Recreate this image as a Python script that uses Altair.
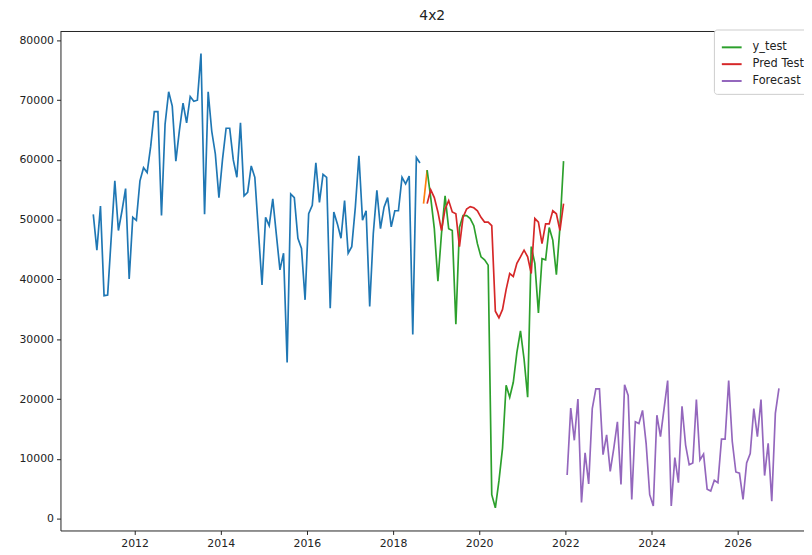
import altair as alt
import pandas as pd

# month index 0 = Jan 2011
train_start = 0
train = [50900, 44900, 52300, 37300, 37400, 47000, 56500, 48200, 51500, 55200,
         40100, 50400, 49900, 56500, 58700, 57900, 62300, 68100, 68100, 50700,
         66000, 71400, 69000, 59800, 65000, 69500, 66200, 70600, 69800, 70000,
         77800, 50900, 71400, 64800, 61000, 53700, 60100, 65300, 65300, 60000,
         57100, 66200, 54000, 54600, 59000, 57100, 48100, 39100, 50400, 49000,
         53500, 47500, 41600, 44400, 26100, 54300, 53700, 46900, 45200, 36600,
         51000, 52400, 59500, 52900, 57600, 57100, 35200, 51300, 49300, 46900,
         53200, 44400, 45500, 52100, 60700, 49900, 51500, 35500, 47700, 54900,
         48500, 52100, 53700, 48800, 51500, 51500, 57100, 56000, 57300, 30800,
         60400, 59500]

val_start = 92
val = [52700, 58300]

test_start = 93
y_test = [58300, 53700, 48500, 39700, 47700, 54000, 48500, 48200, 32500, 48700,
          50700, 50700, 50200, 49000, 46000, 43800, 43300, 42400, 4000, 1800,
          6300, 11800, 22300, 20300, 22800, 27800, 31400, 26700, 20300, 45500,
          42700, 34400, 43500, 43300, 48700, 46600, 40800, 48800, 59800]
pred_test = [52700, 55000, 53700, 51300, 48200, 51800, 53200, 51300, 51000, 45500,
             50400, 51800, 52200, 52000, 51500, 50400, 49600, 49600, 49000, 34700,
             33600, 35000, 38300, 41000, 40500, 42700, 43800, 44900, 43800, 41000,
             50200, 49600, 46000, 49300, 49300, 51500, 51000, 48200, 52700]

fc_start = 132
forecast = [7300, 18500, 13100, 20000, 2700, 11000, 5800, 18400, 21700, 21700,
            10700, 14000, 7900, 11800, 16200, 5700, 22400, 20600, 3200, 16200,
            15900, 18100, 12600, 4000, 2100, 17300, 13700, 18400, 23100, 2100,
            10200, 6000, 18800, 12300, 9000, 9300, 19900, 9800, 10800, 4900,
            4600, 6400, 6000, 13300, 13300, 23100, 12900, 7800, 7600, 3200,
            9300, 10900, 18400, 13700, 19900, 7200, 12600, 2900, 17600, 21800]

series_names = ["Train", "Valid", "y_test", "Pred Test", "Forecast"]
series_colors = ["#1f77b4", "#ff7f0e", "#2ca02c", "#d62728", "#9467bd"]
legend_names = ["y_test", "Pred Test", "Forecast"]
x_ticks = [2012, 2014, 2016, 2018, 2020, 2022, 2024, 2026]
y_ticks = [0, 10000, 20000, 30000, 40000, 50000, 60000, 70000, 80000]


def frame(name, start, values):
    return pd.DataFrame({
        "series": name,
        "t": [2011 + (start + i + 0.5) / 12 for i in range(len(values))],
        "value": values,
    })


df = pd.concat([
    frame("Train", train_start, train),
    frame("Valid", val_start, val),
    frame("y_test", test_start, y_test),
    frame("Pred Test", test_start, pred_test),
    frame("Forecast", fc_start, forecast),
], ignore_index=True)

W, H = 751, 504
TXT = "#222222"

axis_style = dict(grid=False, labelFont="DejaVu Sans", labelFontSize=11,
                  labelColor=TXT, tickColor=TXT, domainColor=TXT, tickSize=4,
                  labelPadding=3, domainWidth=1, tickWidth=1)

lines = alt.Chart(df).mark_line(strokeWidth=1.7).encode(
    x=alt.X("t:Q", title=None,
            scale=alt.Scale(domain=[2010.28, 2027.54], nice=False, zero=False),
            axis=alt.Axis(values=x_ticks, format="d", **axis_style)),
    y=alt.Y("value:Q", title=None,
            scale=alt.Scale(domain=[-1988, 81490], nice=False, zero=False),
            axis=alt.Axis(values=y_ticks, format="d", **axis_style)),
    color=alt.Color("series:N",
                    scale=alt.Scale(domain=series_names, range=series_colors),
                    legend=alt.Legend(values=legend_names, title=None,
                                      orient="none", legendX=660, legendY=-2,
                                      symbolType="stroke", symbolSize=400,
                                      symbolStrokeWidth=2, labelFontSize=11.5,
                                      labelFont="DejaVu Sans", labelColor=TXT,
                                      labelOffset=10, rowPadding=0,
                                      fillColor="white", strokeColor="#cccccc",
                                      cornerRadius=3)),
    detail="series:N",
)

top_spine = alt.Chart(pd.DataFrame({"a": [0]})).mark_rule(color=TXT, strokeWidth=1).encode(
    x=alt.value(0), x2=alt.value(W), y=alt.value(0)
)

chart = alt.layer(lines, top_spine).properties(
    width=W, height=H,
    background="white",
    title=alt.Title("4x2", fontSize=14, font="DejaVu Sans", fontWeight="normal",
                    color=TXT, offset=6),
    autosize=alt.AutoSizeParams(type="none"),
    padding={"left": 53, "top": 21, "right": 0, "bottom": 19},
).configure_view(stroke=None).configure_legend(
    padding=7, offset=0
)

chart.save("out.html", embed_options={"renderer": "svg", "actions": False})
